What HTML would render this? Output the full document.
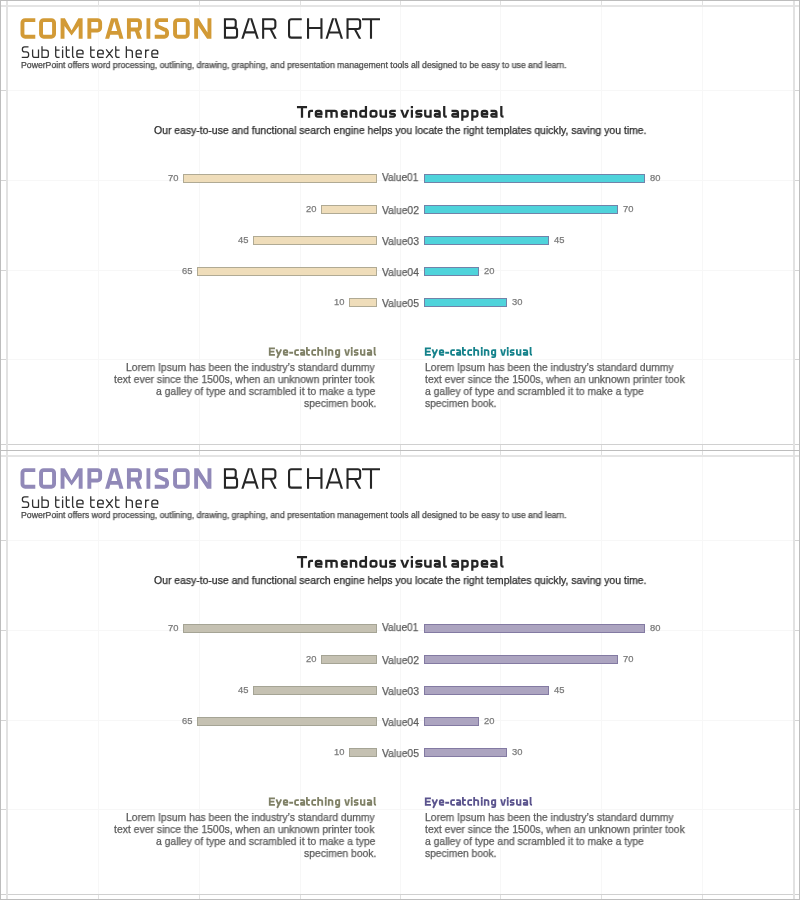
<!DOCTYPE html><html><head><meta charset="utf-8"><style>
html,body{margin:0;padding:0;background:#fff;}body{width:800px;height:900px;position:relative;overflow:hidden;font-family:"Liberation Sans", sans-serif;}
.t{position:absolute;white-space:nowrap;transform-origin:0 0;line-height:1;will-change:transform;-webkit-text-stroke:0.25px currentColor;}
.g{position:absolute;}
.bar{position:absolute;box-sizing:border-box;border:1px solid;}
</style></head><body>
<div class="g" style="left:98px;top:7px;width:1px;height:437px;background:#f7f7f7"></div>
<div class="g" style="left:98px;top:1px;width:1px;height:5px;background:#e0e0e0"></div>
<div class="g" style="left:98px;top:445px;width:1px;height:5px;background:#e0e0e0"></div>
<div class="g" style="left:199px;top:7px;width:1px;height:437px;background:#f7f7f7"></div>
<div class="g" style="left:199px;top:1px;width:1px;height:5px;background:#e0e0e0"></div>
<div class="g" style="left:199px;top:445px;width:1px;height:5px;background:#e0e0e0"></div>
<div class="g" style="left:300px;top:7px;width:1px;height:437px;background:#f7f7f7"></div>
<div class="g" style="left:300px;top:1px;width:1px;height:5px;background:#e0e0e0"></div>
<div class="g" style="left:300px;top:445px;width:1px;height:5px;background:#e0e0e0"></div>
<div class="g" style="left:400px;top:7px;width:1px;height:437px;background:#f7f7f7"></div>
<div class="g" style="left:400px;top:1px;width:1px;height:5px;background:#e0e0e0"></div>
<div class="g" style="left:400px;top:445px;width:1px;height:5px;background:#e0e0e0"></div>
<div class="g" style="left:500px;top:7px;width:1px;height:437px;background:#f7f7f7"></div>
<div class="g" style="left:500px;top:1px;width:1px;height:5px;background:#e0e0e0"></div>
<div class="g" style="left:500px;top:445px;width:1px;height:5px;background:#e0e0e0"></div>
<div class="g" style="left:601px;top:7px;width:1px;height:437px;background:#f7f7f7"></div>
<div class="g" style="left:601px;top:1px;width:1px;height:5px;background:#e0e0e0"></div>
<div class="g" style="left:601px;top:445px;width:1px;height:5px;background:#e0e0e0"></div>
<div class="g" style="left:702px;top:7px;width:1px;height:437px;background:#f7f7f7"></div>
<div class="g" style="left:702px;top:1px;width:1px;height:5px;background:#e0e0e0"></div>
<div class="g" style="left:702px;top:445px;width:1px;height:5px;background:#e0e0e0"></div>
<div class="g" style="left:7px;top:90px;width:786px;height:1px;background:#f7f7f7"></div>
<div class="g" style="left:1px;top:90px;width:5px;height:1px;background:#d4d4d4"></div>
<div class="g" style="left:794px;top:90px;width:5px;height:1px;background:#d4d4d4"></div>
<div class="g" style="left:7px;top:180px;width:786px;height:1px;background:#f7f7f7"></div>
<div class="g" style="left:1px;top:180px;width:5px;height:1px;background:#d4d4d4"></div>
<div class="g" style="left:794px;top:180px;width:5px;height:1px;background:#d4d4d4"></div>
<div class="g" style="left:7px;top:270px;width:786px;height:1px;background:#f7f7f7"></div>
<div class="g" style="left:1px;top:270px;width:5px;height:1px;background:#d4d4d4"></div>
<div class="g" style="left:794px;top:270px;width:5px;height:1px;background:#d4d4d4"></div>
<div class="g" style="left:7px;top:359px;width:786px;height:1px;background:#f7f7f7"></div>
<div class="g" style="left:1px;top:359px;width:5px;height:1px;background:#d4d4d4"></div>
<div class="g" style="left:794px;top:359px;width:5px;height:1px;background:#d4d4d4"></div>
<div class="g" style="left:1px;top:5px;width:798px;height:2px;background:#e4e4e4"></div>
<div class="g" style="left:1px;top:444px;width:798px;height:1px;background:#d0d0d0"></div>
<div class="g" style="left:6px;top:0px;width:2px;height:450px;background:#e2e2e2"></div>
<div class="g" style="left:793px;top:0px;width:2px;height:450px;background:#e2e2e2"></div>
<div class="g" style="left:0px;top:0px;width:800px;height:1px;background:#bdbdbd"></div>
<div class="g" style="left:0px;top:0px;width:1px;height:450px;background:#bdbdbd"></div>
<div class="g" style="left:799px;top:0px;width:1px;height:450px;background:#bdbdbd"></div>
<div class="g" style="left:98px;top:457px;width:1px;height:437px;background:#f7f7f7"></div>
<div class="g" style="left:98px;top:451px;width:1px;height:5px;background:#e0e0e0"></div>
<div class="g" style="left:98px;top:895px;width:1px;height:5px;background:#e0e0e0"></div>
<div class="g" style="left:199px;top:457px;width:1px;height:437px;background:#f7f7f7"></div>
<div class="g" style="left:199px;top:451px;width:1px;height:5px;background:#e0e0e0"></div>
<div class="g" style="left:199px;top:895px;width:1px;height:5px;background:#e0e0e0"></div>
<div class="g" style="left:300px;top:457px;width:1px;height:437px;background:#f7f7f7"></div>
<div class="g" style="left:300px;top:451px;width:1px;height:5px;background:#e0e0e0"></div>
<div class="g" style="left:300px;top:895px;width:1px;height:5px;background:#e0e0e0"></div>
<div class="g" style="left:400px;top:457px;width:1px;height:437px;background:#f7f7f7"></div>
<div class="g" style="left:400px;top:451px;width:1px;height:5px;background:#e0e0e0"></div>
<div class="g" style="left:400px;top:895px;width:1px;height:5px;background:#e0e0e0"></div>
<div class="g" style="left:500px;top:457px;width:1px;height:437px;background:#f7f7f7"></div>
<div class="g" style="left:500px;top:451px;width:1px;height:5px;background:#e0e0e0"></div>
<div class="g" style="left:500px;top:895px;width:1px;height:5px;background:#e0e0e0"></div>
<div class="g" style="left:601px;top:457px;width:1px;height:437px;background:#f7f7f7"></div>
<div class="g" style="left:601px;top:451px;width:1px;height:5px;background:#e0e0e0"></div>
<div class="g" style="left:601px;top:895px;width:1px;height:5px;background:#e0e0e0"></div>
<div class="g" style="left:702px;top:457px;width:1px;height:437px;background:#f7f7f7"></div>
<div class="g" style="left:702px;top:451px;width:1px;height:5px;background:#e0e0e0"></div>
<div class="g" style="left:702px;top:895px;width:1px;height:5px;background:#e0e0e0"></div>
<div class="g" style="left:7px;top:540px;width:786px;height:1px;background:#f7f7f7"></div>
<div class="g" style="left:1px;top:540px;width:5px;height:1px;background:#d4d4d4"></div>
<div class="g" style="left:794px;top:540px;width:5px;height:1px;background:#d4d4d4"></div>
<div class="g" style="left:7px;top:630px;width:786px;height:1px;background:#f7f7f7"></div>
<div class="g" style="left:1px;top:630px;width:5px;height:1px;background:#d4d4d4"></div>
<div class="g" style="left:794px;top:630px;width:5px;height:1px;background:#d4d4d4"></div>
<div class="g" style="left:7px;top:720px;width:786px;height:1px;background:#f7f7f7"></div>
<div class="g" style="left:1px;top:720px;width:5px;height:1px;background:#d4d4d4"></div>
<div class="g" style="left:794px;top:720px;width:5px;height:1px;background:#d4d4d4"></div>
<div class="g" style="left:7px;top:809px;width:786px;height:1px;background:#f7f7f7"></div>
<div class="g" style="left:1px;top:809px;width:5px;height:1px;background:#d4d4d4"></div>
<div class="g" style="left:794px;top:809px;width:5px;height:1px;background:#d4d4d4"></div>
<div class="g" style="left:1px;top:455px;width:798px;height:2px;background:#e4e4e4"></div>
<div class="g" style="left:1px;top:894px;width:798px;height:1px;background:#d0d0d0"></div>
<div class="g" style="left:6px;top:450px;width:2px;height:450px;background:#e2e2e2"></div>
<div class="g" style="left:793px;top:450px;width:2px;height:450px;background:#e2e2e2"></div>
<div class="g" style="left:0px;top:450px;width:800px;height:1px;background:#bdbdbd"></div>
<div class="g" style="left:0px;top:450px;width:1px;height:450px;background:#bdbdbd"></div>
<div class="g" style="left:799px;top:450px;width:1px;height:450px;background:#bdbdbd"></div>
<div class="g" style="left:0px;top:899px;width:800px;height:1px;background:#bdbdbd"></div>
<svg class="g" style="left:0;top:0px" width="800" height="50" viewBox="0 0 800 50">
<path fill="none" stroke="#D29A36" stroke-width="3.9" d="M35.3,20.15H25.1A2.65,2.65 0 0 0 22.45,22.8V34.1A2.65,2.65 0 0 0 25.1,36.75H35.3M43.7,20.15H51.4A2.65,2.65 0 0 1 54.05,22.8V34.1A2.65,2.65 0 0 1 51.4,36.75H43.7A2.65,2.65 0 0 1 41.05,34.1V22.8A2.65,2.65 0 0 1 43.7,20.15ZM89.35,38.7V20.15H97.5A2.65,2.65 0 0 1 100.15,22.8V27.85A2.65,2.65 0 0 1 97.5,30.5H89.35M128.9,38.7V20.15H137.3A2.65,2.65 0 0 1 139.95,22.8V26.85A2.65,2.65 0 0 1 137.3,29.5H128.9M168,20.15H159.3A2.65,2.65 0 0 0 156.65,22.8V24.45A2.65,2.65 0 0 0 159.3,27.1L164.4,29.5A2.65,2.65 0 0 1 167.05,32.15V34.1A2.65,2.65 0 0 1 164.4,36.75H154.7M177.7,20.15H185.1A2.65,2.65 0 0 1 187.75,22.8V34.1A2.65,2.65 0 0 1 185.1,36.75H177.7A2.65,2.65 0 0 1 175.05,34.1V22.8A2.65,2.65 0 0 1 177.7,20.15Z"/>
<path fill="#D29A36" fill-rule="evenodd" d="M60.6,38.7V18.2H64.89L71.6,30.62L78.31,18.2H82.6V38.7H78.7V25.98L71.6,35.5L64.5,25.98V38.7ZM105.1,38.7L111.1,18.2H117.5L123.5,38.7H119.44L118.31,34.85H110.29L109.16,38.7ZM114.3,21.15L117.17,30.95H111.43ZM134.3,29.5H138.67L141.9,38.7H137.53ZM146.5,18.2H150.3V38.7H146.5ZM194.2,38.7V18.2H198.49L207.5,32.46V18.2H211.4V38.7H207.11L198.1,25.61V38.7Z"/>
<path fill="none" stroke="#262626" stroke-width="2.1" d="M224.95,19.25H233.3A2.45,2.45 0 0 1 235.75,21.7V25.45A2.45,2.45 0 0 1 233.3,27.9H224.95M224.95,27.9H234.6A2.45,2.45 0 0 1 237.05,30.35V35.2A2.45,2.45 0 0 1 234.6,37.65H224.95M224.95,18.2V38.7M263.15,38.7V19.25H272.9A2.45,2.45 0 0 1 275.35,21.7V26.25A2.45,2.45 0 0 1 272.9,28.7H263.15M301.75,19.25H291.5A2.45,2.45 0 0 0 289.05,21.7V35.2A2.45,2.45 0 0 0 291.5,37.65H301.75M308.05,18.2V38.7M321.45,18.2V38.7M308.05,28H321.45M347.55,38.7V19.25H357.7A2.45,2.45 0 0 1 360.15,21.7V26.55A2.45,2.45 0 0 1 357.7,29H347.55M362,19.25H380M371,18.2V38.7"/>
<path fill="#262626" fill-rule="evenodd" d="M241.3,38.7L247.95,18.2H252.15L258.8,38.7H256.59L254.89,33.45H245.21L243.51,38.7ZM250.05,18.53L254.21,31.35H245.89ZM269.3,28.7H271.65L276.75,38.7H274.4ZM325.5,38.7L332.05,18.2H336.45L343,38.7H340.8L339.15,33.55H329.35L327.7,38.7ZM334.25,18.21L338.48,31.45H330.02ZM353.6,29H355.95L361.2,38.7H358.85Z"/>
</svg>
<svg class="g" style="left:0;top:0px" width="800" height="70" viewBox="0 0 800 70"><path fill="none" stroke="#303030" stroke-width="1.3" d="M28.5,46.9H24.55A2.15,2.15 0 0 0 22.4,49.05V49.65A2.15,2.15 0 0 0 24.55,51.8H26.45A2.15,2.15 0 0 1 28.6,53.95V55.15A2.15,2.15 0 0 1 26.45,57.3H21.75M32.6,49.4V55.15A2.15,2.15 0 0 0 34.75,57.3H38.5M38.5,49.4V57.95M42,46.2V57.3H46.15A2.15,2.15 0 0 0 48.3,55.15V52.2A2.15,2.15 0 0 0 46.15,50.05H42M55.7,46.2V55.15A2.15,2.15 0 0 0 57.85,57.3H59.6M55.05,50.05H59.6M62.6,49.4V57.95M62.6,46.4V47.8M66.35,46.2V55.15A2.15,2.15 0 0 0 68.5,57.3H69.8M65.7,50.05H69.8M72.6,46.2V56.01A1.29,1.29 0 0 0 73.89,57.3H74.25M76.85,53.88H83.05V52.2A2.15,2.15 0 0 0 80.9,50.05H79A2.15,2.15 0 0 0 76.85,52.2V55.15A2.15,2.15 0 0 0 79,57.3H83.3M90.75,46.2V55.15A2.15,2.15 0 0 0 92.9,57.3H94.8M90.1,50.05H94.8M97.65,53.88H103.25V52.2A2.15,2.15 0 0 0 101.1,50.05H99.8A2.15,2.15 0 0 0 97.65,52.2V55.15A2.15,2.15 0 0 0 99.8,57.3H103.5M106.15,49.4L112.75,57.95M112.75,49.4L106.15,57.95M115.75,46.2V55.15A2.15,2.15 0 0 0 117.9,57.3H119.6M115.1,50.05H119.6M126.35,46.2V57.95M126.35,50.05H130.2A2.15,2.15 0 0 1 132.35,52.2V57.95M136.15,53.88H141.25V52.2A2.15,2.15 0 0 0 139.1,50.05H138.3A2.15,2.15 0 0 0 136.15,52.2V55.15A2.15,2.15 0 0 0 138.3,57.3H141.5M145.65,49.4V57.95M145.65,52.2A2.15,2.15 0 0 1 147.8,50.05H149.25M151.85,53.88H157.75V52.2A2.15,2.15 0 0 0 155.6,50.05H154A2.15,2.15 0 0 0 151.85,52.2V55.15A2.15,2.15 0 0 0 154,57.3H158"/></svg>
<svg class="g" style="left:0px;top:0px" width="800" height="130" viewBox="0 0 800 130"><path fill="none" stroke="#252525" stroke-width="2.25" d="M296.95,107.22H307.05M302,106.1V117.75M309.07,117.75V112.75A1.88,1.88 0 0 1 310.95,110.88H313.05M315.82,113.75H321.43V112.75A1.88,1.88 0 0 0 319.55,110.88H317.7A1.88,1.88 0 0 0 315.82,112.75V114.75A1.88,1.88 0 0 0 317.7,116.62H322.25M326.32,109.75V117.75M326.32,110.88H329.62A1.88,1.88 0 0 1 331.5,112.75V117.75M329.62,110.88H334.8A1.88,1.88 0 0 1 336.68,112.75V117.75M341.82,113.75H346.68V112.75A1.88,1.88 0 0 0 344.8,110.88H343.7A1.88,1.88 0 0 0 341.82,112.75V114.75A1.88,1.88 0 0 0 343.7,116.62H347.5M350.82,109.75V117.75M350.82,110.88H354.3A1.88,1.88 0 0 1 356.18,112.75V117.75M365.93,106.1V117.75M365.93,110.88H362.2A1.88,1.88 0 0 0 360.32,112.75V114.75A1.88,1.88 0 0 0 362.2,116.62H365.93M372.45,110.88H374.55A1.88,1.88 0 0 1 376.43,112.75V114.75A1.88,1.88 0 0 1 374.55,116.62H372.45A1.88,1.88 0 0 1 370.57,114.75V112.75A1.88,1.88 0 0 1 372.45,110.88ZM380.57,109.75V114.75A1.88,1.88 0 0 0 382.45,116.62H385.93M385.93,109.75V117.75M395.75,110.88H391.57A1.5,1.5 0 0 0 390.07,112.38V112.25A1.5,1.5 0 0 0 391.57,113.75H393.43A1.5,1.5 0 0 1 394.93,115.25V115.12A1.5,1.5 0 0 1 393.43,116.62H389.25M411.9,109.75V117.75M411.9,106.1V108.35M422.25,110.88H417.82A1.5,1.5 0 0 0 416.32,112.38V112.25A1.5,1.5 0 0 0 417.82,113.75H419.93A1.5,1.5 0 0 1 421.43,115.25V115.12A1.5,1.5 0 0 1 419.93,116.62H415.5M425.22,109.75V114.75A1.88,1.88 0 0 0 427.1,116.62H430.57M430.57,109.75V117.75M434,110.88H437.8A1.88,1.88 0 0 1 439.68,112.75V117.75M439.68,113.95H436.14A1.31,1.31 0 0 0 434.82,115.26V115.31A1.31,1.31 0 0 0 436.14,116.62H439.68M444.22,106.1V114.92A1.7,1.7 0 0 0 445.92,116.62H446.8M451.5,110.88H456.05A1.88,1.88 0 0 1 457.93,112.75V117.75M457.93,113.95H453.64A1.31,1.31 0 0 0 452.32,115.26V115.31A1.31,1.31 0 0 0 453.64,116.62H457.93M462.32,109.75V120.75M462.32,110.88H465.8A1.88,1.88 0 0 1 467.68,112.75V114.75A1.88,1.88 0 0 1 465.8,116.62H462.32M472.32,109.75V120.75M472.32,110.88H475.55A1.88,1.88 0 0 1 477.43,112.75V114.75A1.88,1.88 0 0 1 475.55,116.62H472.32M481.82,113.75H487.18V112.75A1.88,1.88 0 0 0 485.3,110.88H483.7A1.88,1.88 0 0 0 481.82,112.75V114.75A1.88,1.88 0 0 0 483.7,116.62H488M490.5,110.88H494.55A1.88,1.88 0 0 1 496.43,112.75V117.75M496.43,113.95H492.64A1.31,1.31 0 0 0 491.32,115.26V115.31A1.31,1.31 0 0 0 492.64,116.62H496.43M501.32,106.1V114.92A1.7,1.7 0 0 0 503.02,116.62H503.55"/><path fill="#252525" d="M400.2,109.75H402.63L404.75,115.59L406.87,109.75H409.3L406.16,117.75H403.34Z"/></svg>
<svg class="g" style="left:0px;top:0px" width="800" height="380" viewBox="0 0 800 380"><path fill="none" stroke="#13818a" stroke-width="1.8" d="M430.95,348.3H425.75V354.9H430.95M425.75,351.6H430.35M432.36,349.3L435,355.6M437.24,349.3L433.15,358M439.75,352.55H443.35V351.6A1.4,1.4 0 0 0 441.95,350.2H441.15A1.4,1.4 0 0 0 439.75,351.6V353.5A1.4,1.4 0 0 0 441.15,354.9H443.95M445.25,352.75H449.15M454.85,350.2H452.45A1.4,1.4 0 0 0 451.05,351.6V353.5A1.4,1.4 0 0 0 452.45,354.9H454.85M456.3,350.2H458.85A1.4,1.4 0 0 1 460.25,351.6V355.8M460.25,352.75H457.88A0.98,0.98 0 0 0 456.9,353.73V353.92A0.98,0.98 0 0 0 457.88,354.9H460.25M462.9,347.1V353.58A1.32,1.32 0 0 0 464.22,354.9H465.85M462,350.2H465.85M472.05,350.2H469.55A1.4,1.4 0 0 0 468.15,351.6V353.5A1.4,1.4 0 0 0 469.55,354.9H472.05M474.15,347.1V355.8M474.15,350.2H476.85A1.4,1.4 0 0 1 478.25,351.6V355.8M481.75,349.3V355.8M481.75,347.1V348.9M484.75,349.3V355.8M484.75,350.2H487.05A1.4,1.4 0 0 1 488.45,351.6V355.8M495.25,350.2H493.25A1.4,1.4 0 0 0 491.85,351.6V353.5A1.4,1.4 0 0 0 493.25,354.9H495.25M495.25,349.3V355.7A1.4,1.4 0 0 1 493.85,357.1H491.45M507.73,349.3V355.8M507.73,347.1V348.9M514.35,350.2H511.67A1.12,1.12 0 0 0 510.55,351.32V351.43A1.12,1.12 0 0 0 511.67,352.55H512.63A1.12,1.12 0 0 1 513.75,353.67V353.78A1.12,1.12 0 0 1 512.63,354.9H509.95M516.9,349.3V353.5A1.4,1.4 0 0 0 518.3,354.9H520.45M520.45,349.3V355.8M523.05,350.2H525.85A1.4,1.4 0 0 1 527.25,351.6V355.8M527.25,352.75H524.63A0.98,0.98 0 0 0 523.65,353.73V353.92A0.98,0.98 0 0 0 524.63,354.9H527.25M530.55,347.1V353.58A1.32,1.32 0 0 0 531.87,354.9H532.05"/><path fill="#13818a" d="M500.15,349.3H502.09L503.1,354.05L504.11,349.3H506.05L504.27,355.8H501.93Z"/></svg>
<svg class="g" style="left:-156.1px;top:0px" width="800" height="380" viewBox="0 0 800 380"><path fill="none" stroke="#7f8066" stroke-width="1.8" d="M430.95,348.3H425.75V354.9H430.95M425.75,351.6H430.35M432.36,349.3L435,355.6M437.24,349.3L433.15,358M439.75,352.55H443.35V351.6A1.4,1.4 0 0 0 441.95,350.2H441.15A1.4,1.4 0 0 0 439.75,351.6V353.5A1.4,1.4 0 0 0 441.15,354.9H443.95M445.25,352.75H449.15M454.85,350.2H452.45A1.4,1.4 0 0 0 451.05,351.6V353.5A1.4,1.4 0 0 0 452.45,354.9H454.85M456.3,350.2H458.85A1.4,1.4 0 0 1 460.25,351.6V355.8M460.25,352.75H457.88A0.98,0.98 0 0 0 456.9,353.73V353.92A0.98,0.98 0 0 0 457.88,354.9H460.25M462.9,347.1V353.58A1.32,1.32 0 0 0 464.22,354.9H465.85M462,350.2H465.85M472.05,350.2H469.55A1.4,1.4 0 0 0 468.15,351.6V353.5A1.4,1.4 0 0 0 469.55,354.9H472.05M474.15,347.1V355.8M474.15,350.2H476.85A1.4,1.4 0 0 1 478.25,351.6V355.8M481.75,349.3V355.8M481.75,347.1V348.9M484.75,349.3V355.8M484.75,350.2H487.05A1.4,1.4 0 0 1 488.45,351.6V355.8M495.25,350.2H493.25A1.4,1.4 0 0 0 491.85,351.6V353.5A1.4,1.4 0 0 0 493.25,354.9H495.25M495.25,349.3V355.7A1.4,1.4 0 0 1 493.85,357.1H491.45M507.73,349.3V355.8M507.73,347.1V348.9M514.35,350.2H511.67A1.12,1.12 0 0 0 510.55,351.32V351.43A1.12,1.12 0 0 0 511.67,352.55H512.63A1.12,1.12 0 0 1 513.75,353.67V353.78A1.12,1.12 0 0 1 512.63,354.9H509.95M516.9,349.3V353.5A1.4,1.4 0 0 0 518.3,354.9H520.45M520.45,349.3V355.8M523.05,350.2H525.85A1.4,1.4 0 0 1 527.25,351.6V355.8M527.25,352.75H524.63A0.98,0.98 0 0 0 523.65,353.73V353.92A0.98,0.98 0 0 0 524.63,354.9H527.25M530.55,347.1V353.58A1.32,1.32 0 0 0 531.87,354.9H532.05"/><path fill="#7f8066" d="M500.15,349.3H502.09L503.1,354.05L504.11,349.3H506.05L504.27,355.8H501.93Z"/></svg>
<div class="bar" style="left:183px;top:174px;width:194px;height:9px;background:#EFDDBA;border-color:#B0AA94"></div>
<div class="bar" style="left:424px;top:174px;width:221px;height:9px;background:#4FD3DB;border-color:#7282A9"></div>
<div class="bar" style="left:321px;top:205px;width:56px;height:9px;background:#EFDDBA;border-color:#B0AA94"></div>
<div class="bar" style="left:424px;top:205px;width:194px;height:9px;background:#4FD3DB;border-color:#7282A9"></div>
<div class="bar" style="left:253px;top:236px;width:124px;height:9px;background:#EFDDBA;border-color:#B0AA94"></div>
<div class="bar" style="left:424px;top:236px;width:125px;height:9px;background:#4FD3DB;border-color:#7282A9"></div>
<div class="bar" style="left:197px;top:267px;width:180px;height:9px;background:#EFDDBA;border-color:#B0AA94"></div>
<div class="bar" style="left:424px;top:267px;width:55px;height:9px;background:#4FD3DB;border-color:#7282A9"></div>
<div class="bar" style="left:349px;top:298px;width:28px;height:9px;background:#EFDDBA;border-color:#B0AA94"></div>
<div class="bar" style="left:424px;top:298px;width:83px;height:9px;background:#4FD3DB;border-color:#7282A9"></div>
<div class="t" id="t1_0" style="left:19.36px;top:13.08px;font-size:30.50px;font-weight:700;color:transparent;transform:scaleX(0.9359);">COMPARISON</div>
<div class="t" id="t2_0" style="left:221.50px;top:13.08px;font-size:30.50px;font-weight:400;color:transparent;transform:scaleX(0.9014);">BAR CHART</div>
<div class="t" id="sub_0" style="left:21.40px;top:44.19px;font-size:16.20px;font-weight:400;color:transparent;transform:scaleX(1.0891);">Sub title text here</div>
<div class="t" id="desc_0" style="left:21.40px;top:61.44px;font-size:8.70px;font-weight:400;color:#474747;transform:scaleX(0.9973);">PowerPoint offers word processing, outlining, drawing, graphing, and presentation management tools all designed to be easy to use and learn.</div>
<div class="t" id="ct_0" style="left:297.40px;top:103.90px;font-size:16.30px;font-weight:700;color:transparent;transform:scaleX(1.0105);">Tremendous visual appeal</div>
<div class="t" id="cs_0" style="left:154.00px;top:124.73px;font-size:10.60px;font-weight:400;color:#2a2a2a;transform:scaleX(0.9830);">Our easy-to-use and functional search engine helps you locate the right templates quickly, saving you time.</div>
<div class="t" id="h1_0" style="left:269.00px;top:347.09px;font-size:11.00px;font-weight:700;color:transparent;transform:scaleX(1.0336);">Eye-catching visual</div>
<div class="t" id="h2_0" style="left:425.10px;top:347.09px;font-size:11.00px;font-weight:700;color:transparent;transform:scaleX(1.0385);">Eye-catching visual</div>
<div class="t" id="bl0_0" style="left:126.10px;top:362.31px;font-size:10.50px;font-weight:400;color:#5a5a5a;transform:scaleX(0.9825);">Lorem Ipsum has been the industry’s standard dummy</div>
<div class="t" id="br0_0" style="left:425.10px;top:362.31px;font-size:10.50px;font-weight:400;color:#5a5a5a;transform:scaleX(0.9821);">Lorem Ipsum has been the industry’s standard dummy</div>
<div class="t" id="bl1_0" style="left:114.40px;top:374.41px;font-size:10.50px;font-weight:400;color:#5a5a5a;transform:scaleX(0.9912);">text ever since the 1500s, when an unknown printer took</div>
<div class="t" id="br1_0" style="left:425.10px;top:374.41px;font-size:10.50px;font-weight:400;color:#5a5a5a;transform:scaleX(0.9890);">text ever since the 1500s, when an unknown printer took</div>
<div class="t" id="bl2_0" style="left:155.90px;top:386.01px;font-size:10.50px;font-weight:400;color:#5a5a5a;transform:scaleX(0.9868);">a galley of type and scrambled it to make a type</div>
<div class="t" id="br2_0" style="left:425.10px;top:386.01px;font-size:10.50px;font-weight:400;color:#5a5a5a;transform:scaleX(0.9837);">a galley of type and scrambled it to make a type</div>
<div class="t" id="bl3_0" style="left:304.00px;top:398.31px;font-size:10.50px;font-weight:400;color:#5a5a5a;transform:scaleX(0.9845);">specimen book.</div>
<div class="t" id="br3_0" style="left:425.10px;top:398.31px;font-size:10.50px;font-weight:400;color:#5a5a5a;transform:scaleX(0.9735);">specimen book.</div>
<div class="t" id="nl0_0" style="left:167.79px;top:172.94px;font-size:9.40px;font-weight:400;color:#7a7a7a;">70</div>
<div class="t" id="nr0_0" style="left:649.90px;top:172.94px;font-size:9.40px;font-weight:400;color:#7a7a7a;">80</div>
<div class="t" id="v0_0" style="left:382.20px;top:172.13px;font-size:10.60px;font-weight:400;color:#5c5c5c;transform:scaleX(0.9529);">Value01</div>
<div class="t" id="nl1_0" style="left:305.79px;top:203.94px;font-size:9.40px;font-weight:400;color:#7a7a7a;">20</div>
<div class="t" id="nr1_0" style="left:622.90px;top:203.94px;font-size:9.40px;font-weight:400;color:#7a7a7a;">70</div>
<div class="t" id="v1_0" style="left:382.20px;top:204.53px;font-size:10.60px;font-weight:400;color:#5c5c5c;transform:scaleX(0.9686);">Value02</div>
<div class="t" id="nl2_0" style="left:237.79px;top:234.94px;font-size:9.40px;font-weight:400;color:#7a7a7a;">45</div>
<div class="t" id="nr2_0" style="left:553.90px;top:234.94px;font-size:9.40px;font-weight:400;color:#7a7a7a;">45</div>
<div class="t" id="v2_0" style="left:382.20px;top:235.83px;font-size:10.60px;font-weight:400;color:#5c5c5c;transform:scaleX(0.9686);">Value03</div>
<div class="t" id="nl3_0" style="left:181.79px;top:265.94px;font-size:9.40px;font-weight:400;color:#7a7a7a;">65</div>
<div class="t" id="nr3_0" style="left:483.90px;top:265.94px;font-size:9.40px;font-weight:400;color:#7a7a7a;">20</div>
<div class="t" id="v3_0" style="left:382.20px;top:267.03px;font-size:10.60px;font-weight:400;color:#5c5c5c;transform:scaleX(0.9686);">Value04</div>
<div class="t" id="nl4_0" style="left:333.79px;top:296.94px;font-size:9.40px;font-weight:400;color:#7a7a7a;">10</div>
<div class="t" id="nr4_0" style="left:511.90px;top:296.94px;font-size:9.40px;font-weight:400;color:#7a7a7a;">30</div>
<div class="t" id="v4_0" style="left:382.20px;top:298.33px;font-size:10.60px;font-weight:400;color:#5c5c5c;transform:scaleX(0.9686);">Value05</div>
<svg class="g" style="left:0;top:450px" width="800" height="50" viewBox="0 0 800 50">
<path fill="none" stroke="#9189B8" stroke-width="3.9" d="M35.3,20.15H25.1A2.65,2.65 0 0 0 22.45,22.8V34.1A2.65,2.65 0 0 0 25.1,36.75H35.3M43.7,20.15H51.4A2.65,2.65 0 0 1 54.05,22.8V34.1A2.65,2.65 0 0 1 51.4,36.75H43.7A2.65,2.65 0 0 1 41.05,34.1V22.8A2.65,2.65 0 0 1 43.7,20.15ZM89.35,38.7V20.15H97.5A2.65,2.65 0 0 1 100.15,22.8V27.85A2.65,2.65 0 0 1 97.5,30.5H89.35M128.9,38.7V20.15H137.3A2.65,2.65 0 0 1 139.95,22.8V26.85A2.65,2.65 0 0 1 137.3,29.5H128.9M168,20.15H159.3A2.65,2.65 0 0 0 156.65,22.8V24.45A2.65,2.65 0 0 0 159.3,27.1L164.4,29.5A2.65,2.65 0 0 1 167.05,32.15V34.1A2.65,2.65 0 0 1 164.4,36.75H154.7M177.7,20.15H185.1A2.65,2.65 0 0 1 187.75,22.8V34.1A2.65,2.65 0 0 1 185.1,36.75H177.7A2.65,2.65 0 0 1 175.05,34.1V22.8A2.65,2.65 0 0 1 177.7,20.15Z"/>
<path fill="#9189B8" fill-rule="evenodd" d="M60.6,38.7V18.2H64.89L71.6,30.62L78.31,18.2H82.6V38.7H78.7V25.98L71.6,35.5L64.5,25.98V38.7ZM105.1,38.7L111.1,18.2H117.5L123.5,38.7H119.44L118.31,34.85H110.29L109.16,38.7ZM114.3,21.15L117.17,30.95H111.43ZM134.3,29.5H138.67L141.9,38.7H137.53ZM146.5,18.2H150.3V38.7H146.5ZM194.2,38.7V18.2H198.49L207.5,32.46V18.2H211.4V38.7H207.11L198.1,25.61V38.7Z"/>
<path fill="none" stroke="#262626" stroke-width="2.1" d="M224.95,19.25H233.3A2.45,2.45 0 0 1 235.75,21.7V25.45A2.45,2.45 0 0 1 233.3,27.9H224.95M224.95,27.9H234.6A2.45,2.45 0 0 1 237.05,30.35V35.2A2.45,2.45 0 0 1 234.6,37.65H224.95M224.95,18.2V38.7M263.15,38.7V19.25H272.9A2.45,2.45 0 0 1 275.35,21.7V26.25A2.45,2.45 0 0 1 272.9,28.7H263.15M301.75,19.25H291.5A2.45,2.45 0 0 0 289.05,21.7V35.2A2.45,2.45 0 0 0 291.5,37.65H301.75M308.05,18.2V38.7M321.45,18.2V38.7M308.05,28H321.45M347.55,38.7V19.25H357.7A2.45,2.45 0 0 1 360.15,21.7V26.55A2.45,2.45 0 0 1 357.7,29H347.55M362,19.25H380M371,18.2V38.7"/>
<path fill="#262626" fill-rule="evenodd" d="M241.3,38.7L247.95,18.2H252.15L258.8,38.7H256.59L254.89,33.45H245.21L243.51,38.7ZM250.05,18.53L254.21,31.35H245.89ZM269.3,28.7H271.65L276.75,38.7H274.4ZM325.5,38.7L332.05,18.2H336.45L343,38.7H340.8L339.15,33.55H329.35L327.7,38.7ZM334.25,18.21L338.48,31.45H330.02ZM353.6,29H355.95L361.2,38.7H358.85Z"/>
</svg>
<svg class="g" style="left:0;top:450px" width="800" height="70" viewBox="0 0 800 70"><path fill="none" stroke="#303030" stroke-width="1.3" d="M28.5,46.9H24.55A2.15,2.15 0 0 0 22.4,49.05V49.65A2.15,2.15 0 0 0 24.55,51.8H26.45A2.15,2.15 0 0 1 28.6,53.95V55.15A2.15,2.15 0 0 1 26.45,57.3H21.75M32.6,49.4V55.15A2.15,2.15 0 0 0 34.75,57.3H38.5M38.5,49.4V57.95M42,46.2V57.3H46.15A2.15,2.15 0 0 0 48.3,55.15V52.2A2.15,2.15 0 0 0 46.15,50.05H42M55.7,46.2V55.15A2.15,2.15 0 0 0 57.85,57.3H59.6M55.05,50.05H59.6M62.6,49.4V57.95M62.6,46.4V47.8M66.35,46.2V55.15A2.15,2.15 0 0 0 68.5,57.3H69.8M65.7,50.05H69.8M72.6,46.2V56.01A1.29,1.29 0 0 0 73.89,57.3H74.25M76.85,53.88H83.05V52.2A2.15,2.15 0 0 0 80.9,50.05H79A2.15,2.15 0 0 0 76.85,52.2V55.15A2.15,2.15 0 0 0 79,57.3H83.3M90.75,46.2V55.15A2.15,2.15 0 0 0 92.9,57.3H94.8M90.1,50.05H94.8M97.65,53.88H103.25V52.2A2.15,2.15 0 0 0 101.1,50.05H99.8A2.15,2.15 0 0 0 97.65,52.2V55.15A2.15,2.15 0 0 0 99.8,57.3H103.5M106.15,49.4L112.75,57.95M112.75,49.4L106.15,57.95M115.75,46.2V55.15A2.15,2.15 0 0 0 117.9,57.3H119.6M115.1,50.05H119.6M126.35,46.2V57.95M126.35,50.05H130.2A2.15,2.15 0 0 1 132.35,52.2V57.95M136.15,53.88H141.25V52.2A2.15,2.15 0 0 0 139.1,50.05H138.3A2.15,2.15 0 0 0 136.15,52.2V55.15A2.15,2.15 0 0 0 138.3,57.3H141.5M145.65,49.4V57.95M145.65,52.2A2.15,2.15 0 0 1 147.8,50.05H149.25M151.85,53.88H157.75V52.2A2.15,2.15 0 0 0 155.6,50.05H154A2.15,2.15 0 0 0 151.85,52.2V55.15A2.15,2.15 0 0 0 154,57.3H158"/></svg>
<svg class="g" style="left:0px;top:450px" width="800" height="130" viewBox="0 0 800 130"><path fill="none" stroke="#252525" stroke-width="2.25" d="M296.95,107.22H307.05M302,106.1V117.75M309.07,117.75V112.75A1.88,1.88 0 0 1 310.95,110.88H313.05M315.82,113.75H321.43V112.75A1.88,1.88 0 0 0 319.55,110.88H317.7A1.88,1.88 0 0 0 315.82,112.75V114.75A1.88,1.88 0 0 0 317.7,116.62H322.25M326.32,109.75V117.75M326.32,110.88H329.62A1.88,1.88 0 0 1 331.5,112.75V117.75M329.62,110.88H334.8A1.88,1.88 0 0 1 336.68,112.75V117.75M341.82,113.75H346.68V112.75A1.88,1.88 0 0 0 344.8,110.88H343.7A1.88,1.88 0 0 0 341.82,112.75V114.75A1.88,1.88 0 0 0 343.7,116.62H347.5M350.82,109.75V117.75M350.82,110.88H354.3A1.88,1.88 0 0 1 356.18,112.75V117.75M365.93,106.1V117.75M365.93,110.88H362.2A1.88,1.88 0 0 0 360.32,112.75V114.75A1.88,1.88 0 0 0 362.2,116.62H365.93M372.45,110.88H374.55A1.88,1.88 0 0 1 376.43,112.75V114.75A1.88,1.88 0 0 1 374.55,116.62H372.45A1.88,1.88 0 0 1 370.57,114.75V112.75A1.88,1.88 0 0 1 372.45,110.88ZM380.57,109.75V114.75A1.88,1.88 0 0 0 382.45,116.62H385.93M385.93,109.75V117.75M395.75,110.88H391.57A1.5,1.5 0 0 0 390.07,112.38V112.25A1.5,1.5 0 0 0 391.57,113.75H393.43A1.5,1.5 0 0 1 394.93,115.25V115.12A1.5,1.5 0 0 1 393.43,116.62H389.25M411.9,109.75V117.75M411.9,106.1V108.35M422.25,110.88H417.82A1.5,1.5 0 0 0 416.32,112.38V112.25A1.5,1.5 0 0 0 417.82,113.75H419.93A1.5,1.5 0 0 1 421.43,115.25V115.12A1.5,1.5 0 0 1 419.93,116.62H415.5M425.22,109.75V114.75A1.88,1.88 0 0 0 427.1,116.62H430.57M430.57,109.75V117.75M434,110.88H437.8A1.88,1.88 0 0 1 439.68,112.75V117.75M439.68,113.95H436.14A1.31,1.31 0 0 0 434.82,115.26V115.31A1.31,1.31 0 0 0 436.14,116.62H439.68M444.22,106.1V114.92A1.7,1.7 0 0 0 445.92,116.62H446.8M451.5,110.88H456.05A1.88,1.88 0 0 1 457.93,112.75V117.75M457.93,113.95H453.64A1.31,1.31 0 0 0 452.32,115.26V115.31A1.31,1.31 0 0 0 453.64,116.62H457.93M462.32,109.75V120.75M462.32,110.88H465.8A1.88,1.88 0 0 1 467.68,112.75V114.75A1.88,1.88 0 0 1 465.8,116.62H462.32M472.32,109.75V120.75M472.32,110.88H475.55A1.88,1.88 0 0 1 477.43,112.75V114.75A1.88,1.88 0 0 1 475.55,116.62H472.32M481.82,113.75H487.18V112.75A1.88,1.88 0 0 0 485.3,110.88H483.7A1.88,1.88 0 0 0 481.82,112.75V114.75A1.88,1.88 0 0 0 483.7,116.62H488M490.5,110.88H494.55A1.88,1.88 0 0 1 496.43,112.75V117.75M496.43,113.95H492.64A1.31,1.31 0 0 0 491.32,115.26V115.31A1.31,1.31 0 0 0 492.64,116.62H496.43M501.32,106.1V114.92A1.7,1.7 0 0 0 503.02,116.62H503.55"/><path fill="#252525" d="M400.2,109.75H402.63L404.75,115.59L406.87,109.75H409.3L406.16,117.75H403.34Z"/></svg>
<svg class="g" style="left:0px;top:450px" width="800" height="380" viewBox="0 0 800 380"><path fill="none" stroke="#5a538d" stroke-width="1.8" d="M430.95,348.3H425.75V354.9H430.95M425.75,351.6H430.35M432.36,349.3L435,355.6M437.24,349.3L433.15,358M439.75,352.55H443.35V351.6A1.4,1.4 0 0 0 441.95,350.2H441.15A1.4,1.4 0 0 0 439.75,351.6V353.5A1.4,1.4 0 0 0 441.15,354.9H443.95M445.25,352.75H449.15M454.85,350.2H452.45A1.4,1.4 0 0 0 451.05,351.6V353.5A1.4,1.4 0 0 0 452.45,354.9H454.85M456.3,350.2H458.85A1.4,1.4 0 0 1 460.25,351.6V355.8M460.25,352.75H457.88A0.98,0.98 0 0 0 456.9,353.73V353.92A0.98,0.98 0 0 0 457.88,354.9H460.25M462.9,347.1V353.58A1.32,1.32 0 0 0 464.22,354.9H465.85M462,350.2H465.85M472.05,350.2H469.55A1.4,1.4 0 0 0 468.15,351.6V353.5A1.4,1.4 0 0 0 469.55,354.9H472.05M474.15,347.1V355.8M474.15,350.2H476.85A1.4,1.4 0 0 1 478.25,351.6V355.8M481.75,349.3V355.8M481.75,347.1V348.9M484.75,349.3V355.8M484.75,350.2H487.05A1.4,1.4 0 0 1 488.45,351.6V355.8M495.25,350.2H493.25A1.4,1.4 0 0 0 491.85,351.6V353.5A1.4,1.4 0 0 0 493.25,354.9H495.25M495.25,349.3V355.7A1.4,1.4 0 0 1 493.85,357.1H491.45M507.73,349.3V355.8M507.73,347.1V348.9M514.35,350.2H511.67A1.12,1.12 0 0 0 510.55,351.32V351.43A1.12,1.12 0 0 0 511.67,352.55H512.63A1.12,1.12 0 0 1 513.75,353.67V353.78A1.12,1.12 0 0 1 512.63,354.9H509.95M516.9,349.3V353.5A1.4,1.4 0 0 0 518.3,354.9H520.45M520.45,349.3V355.8M523.05,350.2H525.85A1.4,1.4 0 0 1 527.25,351.6V355.8M527.25,352.75H524.63A0.98,0.98 0 0 0 523.65,353.73V353.92A0.98,0.98 0 0 0 524.63,354.9H527.25M530.55,347.1V353.58A1.32,1.32 0 0 0 531.87,354.9H532.05"/><path fill="#5a538d" d="M500.15,349.3H502.09L503.1,354.05L504.11,349.3H506.05L504.27,355.8H501.93Z"/></svg>
<svg class="g" style="left:-156.1px;top:450px" width="800" height="380" viewBox="0 0 800 380"><path fill="none" stroke="#7f8066" stroke-width="1.8" d="M430.95,348.3H425.75V354.9H430.95M425.75,351.6H430.35M432.36,349.3L435,355.6M437.24,349.3L433.15,358M439.75,352.55H443.35V351.6A1.4,1.4 0 0 0 441.95,350.2H441.15A1.4,1.4 0 0 0 439.75,351.6V353.5A1.4,1.4 0 0 0 441.15,354.9H443.95M445.25,352.75H449.15M454.85,350.2H452.45A1.4,1.4 0 0 0 451.05,351.6V353.5A1.4,1.4 0 0 0 452.45,354.9H454.85M456.3,350.2H458.85A1.4,1.4 0 0 1 460.25,351.6V355.8M460.25,352.75H457.88A0.98,0.98 0 0 0 456.9,353.73V353.92A0.98,0.98 0 0 0 457.88,354.9H460.25M462.9,347.1V353.58A1.32,1.32 0 0 0 464.22,354.9H465.85M462,350.2H465.85M472.05,350.2H469.55A1.4,1.4 0 0 0 468.15,351.6V353.5A1.4,1.4 0 0 0 469.55,354.9H472.05M474.15,347.1V355.8M474.15,350.2H476.85A1.4,1.4 0 0 1 478.25,351.6V355.8M481.75,349.3V355.8M481.75,347.1V348.9M484.75,349.3V355.8M484.75,350.2H487.05A1.4,1.4 0 0 1 488.45,351.6V355.8M495.25,350.2H493.25A1.4,1.4 0 0 0 491.85,351.6V353.5A1.4,1.4 0 0 0 493.25,354.9H495.25M495.25,349.3V355.7A1.4,1.4 0 0 1 493.85,357.1H491.45M507.73,349.3V355.8M507.73,347.1V348.9M514.35,350.2H511.67A1.12,1.12 0 0 0 510.55,351.32V351.43A1.12,1.12 0 0 0 511.67,352.55H512.63A1.12,1.12 0 0 1 513.75,353.67V353.78A1.12,1.12 0 0 1 512.63,354.9H509.95M516.9,349.3V353.5A1.4,1.4 0 0 0 518.3,354.9H520.45M520.45,349.3V355.8M523.05,350.2H525.85A1.4,1.4 0 0 1 527.25,351.6V355.8M527.25,352.75H524.63A0.98,0.98 0 0 0 523.65,353.73V353.92A0.98,0.98 0 0 0 524.63,354.9H527.25M530.55,347.1V353.58A1.32,1.32 0 0 0 531.87,354.9H532.05"/><path fill="#7f8066" d="M500.15,349.3H502.09L503.1,354.05L504.11,349.3H506.05L504.27,355.8H501.93Z"/></svg>
<div class="bar" style="left:183px;top:624px;width:194px;height:9px;background:#C5C1B2;border-color:#A5A495"></div>
<div class="bar" style="left:424px;top:624px;width:221px;height:9px;background:#ACA4C0;border-color:#837AA2"></div>
<div class="bar" style="left:321px;top:655px;width:56px;height:9px;background:#C5C1B2;border-color:#A5A495"></div>
<div class="bar" style="left:424px;top:655px;width:194px;height:9px;background:#ACA4C0;border-color:#837AA2"></div>
<div class="bar" style="left:253px;top:686px;width:124px;height:9px;background:#C5C1B2;border-color:#A5A495"></div>
<div class="bar" style="left:424px;top:686px;width:125px;height:9px;background:#ACA4C0;border-color:#837AA2"></div>
<div class="bar" style="left:197px;top:717px;width:180px;height:9px;background:#C5C1B2;border-color:#A5A495"></div>
<div class="bar" style="left:424px;top:717px;width:55px;height:9px;background:#ACA4C0;border-color:#837AA2"></div>
<div class="bar" style="left:349px;top:748px;width:28px;height:9px;background:#C5C1B2;border-color:#A5A495"></div>
<div class="bar" style="left:424px;top:748px;width:83px;height:9px;background:#ACA4C0;border-color:#837AA2"></div>
<div class="t" id="t1_1" style="left:19.36px;top:463.08px;font-size:30.50px;font-weight:700;color:transparent;transform:scaleX(0.9359);">COMPARISON</div>
<div class="t" id="t2_1" style="left:221.50px;top:463.08px;font-size:30.50px;font-weight:400;color:transparent;transform:scaleX(0.9014);">BAR CHART</div>
<div class="t" id="sub_1" style="left:21.40px;top:494.19px;font-size:16.20px;font-weight:400;color:transparent;transform:scaleX(1.0891);">Sub title text here</div>
<div class="t" id="desc_1" style="left:21.40px;top:511.44px;font-size:8.70px;font-weight:400;color:#474747;transform:scaleX(0.9973);">PowerPoint offers word processing, outlining, drawing, graphing, and presentation management tools all designed to be easy to use and learn.</div>
<div class="t" id="ct_1" style="left:297.40px;top:553.90px;font-size:16.30px;font-weight:700;color:transparent;transform:scaleX(1.0105);">Tremendous visual appeal</div>
<div class="t" id="cs_1" style="left:154.00px;top:574.73px;font-size:10.60px;font-weight:400;color:#2a2a2a;transform:scaleX(0.9830);">Our easy-to-use and functional search engine helps you locate the right templates quickly, saving you time.</div>
<div class="t" id="h1_1" style="left:269.00px;top:797.09px;font-size:11.00px;font-weight:700;color:transparent;transform:scaleX(1.0336);">Eye-catching visual</div>
<div class="t" id="h2_1" style="left:425.10px;top:797.09px;font-size:11.00px;font-weight:700;color:transparent;transform:scaleX(1.0385);">Eye-catching visual</div>
<div class="t" id="bl0_1" style="left:126.10px;top:812.31px;font-size:10.50px;font-weight:400;color:#5a5a5a;transform:scaleX(0.9825);">Lorem Ipsum has been the industry’s standard dummy</div>
<div class="t" id="br0_1" style="left:425.10px;top:812.31px;font-size:10.50px;font-weight:400;color:#5a5a5a;transform:scaleX(0.9821);">Lorem Ipsum has been the industry’s standard dummy</div>
<div class="t" id="bl1_1" style="left:114.40px;top:824.41px;font-size:10.50px;font-weight:400;color:#5a5a5a;transform:scaleX(0.9912);">text ever since the 1500s, when an unknown printer took</div>
<div class="t" id="br1_1" style="left:425.10px;top:824.41px;font-size:10.50px;font-weight:400;color:#5a5a5a;transform:scaleX(0.9890);">text ever since the 1500s, when an unknown printer took</div>
<div class="t" id="bl2_1" style="left:155.90px;top:836.01px;font-size:10.50px;font-weight:400;color:#5a5a5a;transform:scaleX(0.9868);">a galley of type and scrambled it to make a type</div>
<div class="t" id="br2_1" style="left:425.10px;top:836.01px;font-size:10.50px;font-weight:400;color:#5a5a5a;transform:scaleX(0.9837);">a galley of type and scrambled it to make a type</div>
<div class="t" id="bl3_1" style="left:304.00px;top:848.31px;font-size:10.50px;font-weight:400;color:#5a5a5a;transform:scaleX(0.9845);">specimen book.</div>
<div class="t" id="br3_1" style="left:425.10px;top:848.31px;font-size:10.50px;font-weight:400;color:#5a5a5a;transform:scaleX(0.9735);">specimen book.</div>
<div class="t" id="nl0_1" style="left:167.79px;top:622.94px;font-size:9.40px;font-weight:400;color:#7a7a7a;">70</div>
<div class="t" id="nr0_1" style="left:649.90px;top:622.94px;font-size:9.40px;font-weight:400;color:#7a7a7a;">80</div>
<div class="t" id="v0_1" style="left:382.20px;top:622.13px;font-size:10.60px;font-weight:400;color:#5c5c5c;transform:scaleX(0.9529);">Value01</div>
<div class="t" id="nl1_1" style="left:305.79px;top:653.94px;font-size:9.40px;font-weight:400;color:#7a7a7a;">20</div>
<div class="t" id="nr1_1" style="left:622.90px;top:653.94px;font-size:9.40px;font-weight:400;color:#7a7a7a;">70</div>
<div class="t" id="v1_1" style="left:382.20px;top:654.53px;font-size:10.60px;font-weight:400;color:#5c5c5c;transform:scaleX(0.9686);">Value02</div>
<div class="t" id="nl2_1" style="left:237.79px;top:684.94px;font-size:9.40px;font-weight:400;color:#7a7a7a;">45</div>
<div class="t" id="nr2_1" style="left:553.90px;top:684.94px;font-size:9.40px;font-weight:400;color:#7a7a7a;">45</div>
<div class="t" id="v2_1" style="left:382.20px;top:685.83px;font-size:10.60px;font-weight:400;color:#5c5c5c;transform:scaleX(0.9686);">Value03</div>
<div class="t" id="nl3_1" style="left:181.79px;top:715.94px;font-size:9.40px;font-weight:400;color:#7a7a7a;">65</div>
<div class="t" id="nr3_1" style="left:483.90px;top:715.94px;font-size:9.40px;font-weight:400;color:#7a7a7a;">20</div>
<div class="t" id="v3_1" style="left:382.20px;top:717.03px;font-size:10.60px;font-weight:400;color:#5c5c5c;transform:scaleX(0.9686);">Value04</div>
<div class="t" id="nl4_1" style="left:333.79px;top:746.94px;font-size:9.40px;font-weight:400;color:#7a7a7a;">10</div>
<div class="t" id="nr4_1" style="left:511.90px;top:746.94px;font-size:9.40px;font-weight:400;color:#7a7a7a;">30</div>
<div class="t" id="v4_1" style="left:382.20px;top:748.33px;font-size:10.60px;font-weight:400;color:#5c5c5c;transform:scaleX(0.9686);">Value05</div>
</body></html>
